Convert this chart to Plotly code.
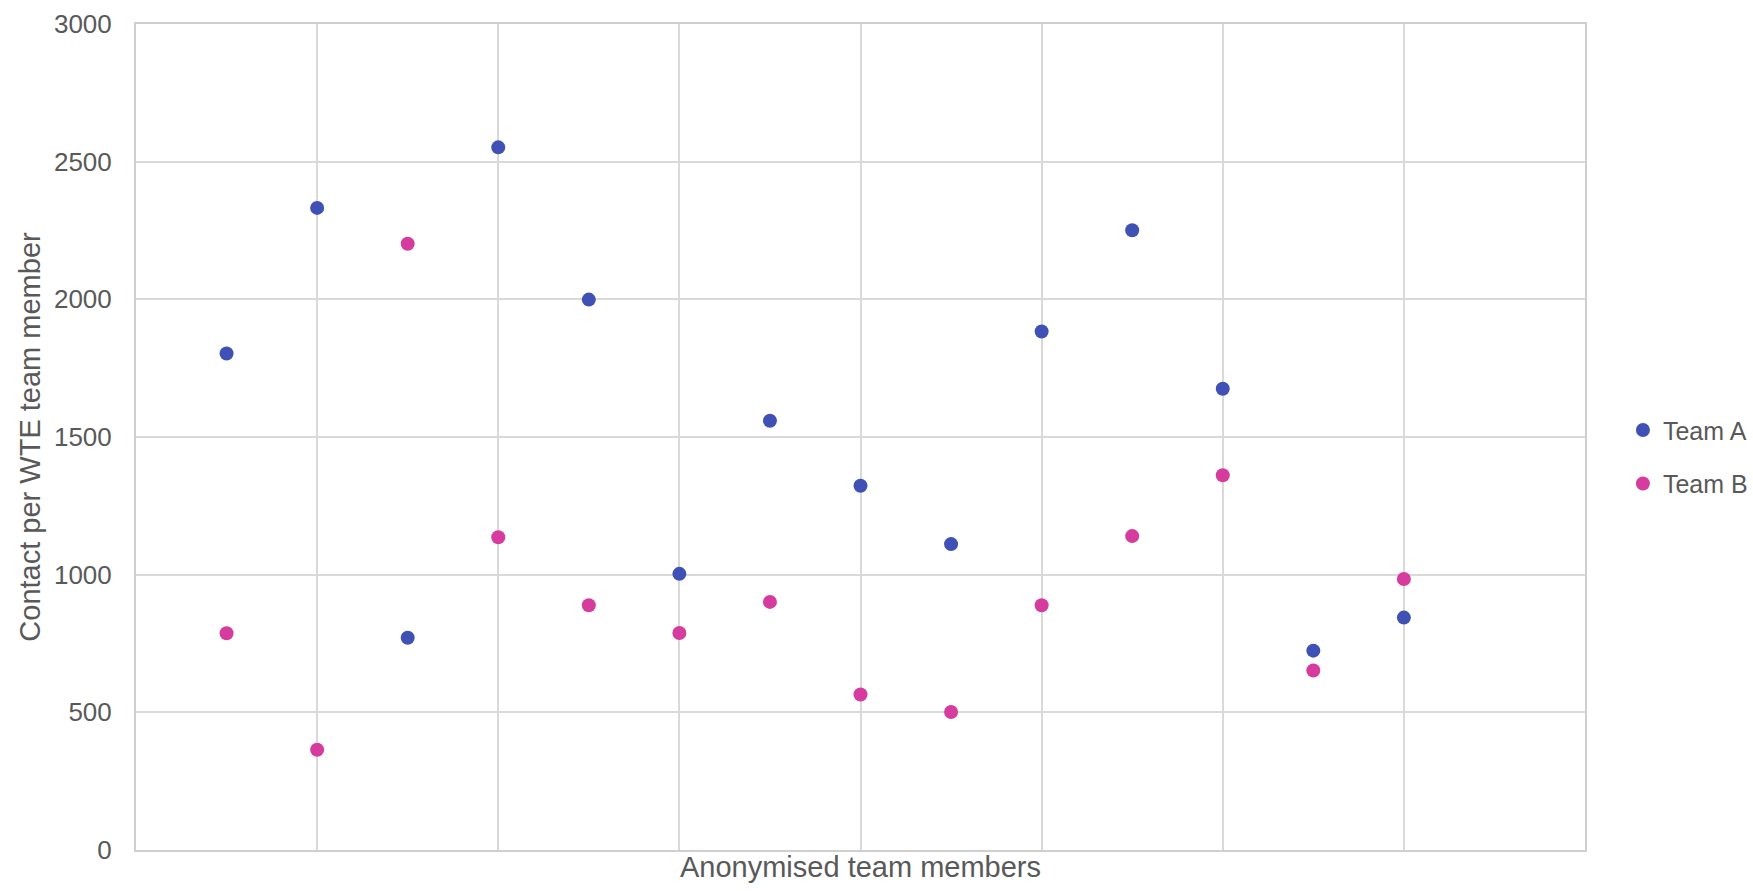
import plotly.graph_objects as go

# Anonymised team members (position on the x axis)
members = list(range(1, 15))

# Contacts per whole-time-equivalent team member
team_a = [1803, 2332, 771, 2552, 1999, 1003, 1559, 1323, 1111, 1883, 2251, 1675, 724, 844]
team_b = [787, 364, 2202, 1136, 889, 788, 901, 565, 501, 889, 1140, 1361, 652, 984]

series_names = ["Team A", "Team B"]
series_colors = ["#3F51B5", "#D63B9E"]

text_color = "#595959"
grid_color = "#D9D9D9"
font_family = "Liberation Sans, Arial, sans-serif"

fig = go.Figure()
for name, values, color in zip(series_names, [team_a, team_b], series_colors):
    fig.add_trace(
        go.Scatter(
            x=members,
            y=values,
            mode="markers",
            name=name,
            legendgroup=name,
            marker=dict(size=14, color=color),
        )
    )

fig.update_layout(
    width=1753,
    height=891,
    paper_bgcolor="white",
    plot_bgcolor="white",
    margin=dict(l=136, r=168, t=24, b=41),
    font=dict(family=font_family, color=text_color, size=26),
    showlegend=True,
    legend=dict(
        xref="container",
        x=0.9258,
        xanchor="left",
        yref="paper",
        y=0.476,
        yanchor="middle",
        font=dict(size=25, color=text_color),
        tracegroupgap=18,
        itemwidth=30,
        bgcolor="rgba(0,0,0,0)",
    ),
)

fig.update_xaxes(
    range=[0, 16],
    dtick=2,
    tick0=0,
    showticklabels=False,
    showgrid=True,
    gridcolor=grid_color,
    gridwidth=2,
    zeroline=False,
    showline=True,
    linecolor="#CFCFCF",
    linewidth=2,
    mirror=True,
    ticks="",
    automargin=False,
    title=dict(
        text="Anonymised team members",
        font=dict(size=29, color=text_color),
        standoff=6,
    ),
)

fig.update_yaxes(
    range=[0, 3000],
    dtick=500,
    tick0=0,
    showgrid=True,
    gridcolor=grid_color,
    gridwidth=2,
    zeroline=False,
    showline=True,
    linecolor="#CFCFCF",
    linewidth=2,
    mirror=True,
    ticks="",
    ticklabelstandoff=17,
    tickfont=dict(size=26, color=text_color),
    automargin=False,
    title=dict(
        text="Contact per WTE team member",
        font=dict(size=29, color=text_color),
        standoff=5,
    ),
)

fig.write_html("out.html")
